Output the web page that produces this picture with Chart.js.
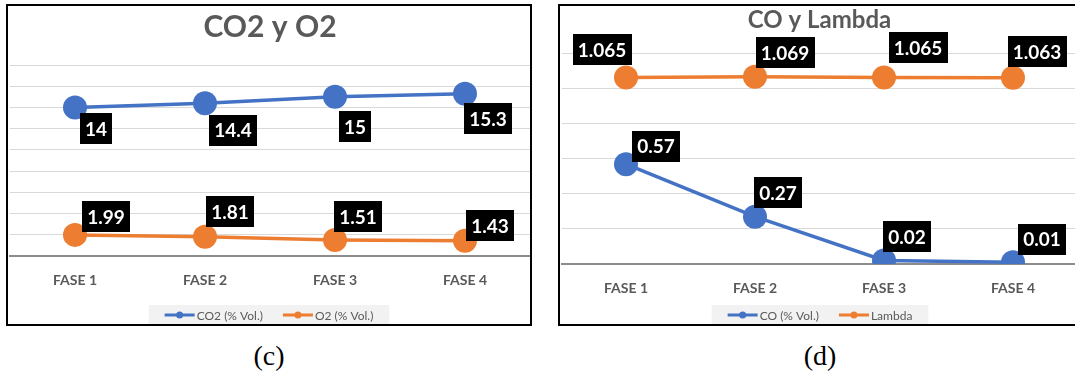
<!DOCTYPE html>
<html>
<head>
<meta charset="utf-8">
<title>CO2 y O2 / CO y Lambda</title>
<script src="https://cdn.jsdelivr.net/npm/chart.js@4.4.1/dist/chart.umd.min.js"></script>
<style>
  html, body { margin: 0; padding: 0; background: #fff; }
  body { position: relative; width: 1075px; height: 381px; overflow: hidden; }
  .panel { position: absolute; top: 4px; height: 322px; border: 2px solid #000; box-sizing: border-box; overflow: hidden; background: #fff; }
  #panelC { left: 6px; width: 526px; }
  #panelD { left: 558px; width: 517px; border-right: none; }
  .chart-box { position: absolute; left: 0; top: 0; height: 318px; }
  #panelC .chart-box { width: 522px; }
  #panelD .chart-box { width: 520px; }
  .caption { position: absolute; top: 338px; font-family: "Liberation Serif", serif; font-size: 28px; line-height: 36px; color: #000; width: 60px; text-align: center; }
</style>
</head>
<body>
<div class="panel" id="panelC"><div class="chart-box"><canvas id="chartC"></canvas></div></div>
<div class="panel" id="panelD"><div class="chart-box"><canvas id="chartD"></canvas></div></div>
<div class="caption" style="left:239px">(c)</div>
<div class="caption" style="left:790px">(d)</div>

<script>
// categorias y valores medidos por fase
const fases = ['FASE 1', 'FASE 2', 'FASE 3', 'FASE 4'];
const co2 = [14, 14.4, 15, 15.3];
const o2 = [1.99, 1.81, 1.51, 1.43];
const co = [0.57, 0.27, 0.02, 0.01];
const lambda = [1.065, 1.069, 1.065, 1.063];

// rangos del eje Y (sin etiquetas, solo lineas de cuadricula)
const rangoC = [0, 18, 2];
const rangoD = [0, 1.2, 0.2];

const AZUL = '#4472C4';
const NARANJA = '#ED7D31';
const GRIS = '#595959';

// cajas negras con el valor de cada punto
const etiquetasValor = {
  id: 'etiquetasValor',
  afterDatasetsDraw(chart) {
    const ctx = chart.ctx;
    ctx.save();
    ctx.font = 'bold 19px Lato';
    ctx.textAlign = 'center';
    ctx.textBaseline = 'middle';
    chart.data.datasets.forEach((ds, i) => {
      chart.getDatasetMeta(i).data.forEach((pt, j) => {
        const txt = String(ds.data[j]);
        const off = ds.desplaz[j];
        const cx = pt.x + off[0];
        const cy = pt.y + off[1];
        const w = ctx.measureText(txt).width + 10;
        const h = 31;
        ctx.fillStyle = '#000';
        ctx.fillRect(Math.round(cx - w / 2), Math.round(cy - h / 2), Math.round(w), h);
        ctx.fillStyle = '#fff';
        ctx.fillText(txt, cx, cy + 1);
      });
    });
    ctx.restore();
  }
};

// leyenda inferior con fondo gris claro
const leyendaFranja = {
  id: 'leyendaFranja',
  afterDraw(chart) {
    const ctx = chart.ctx;
    const y = 309;
    ctx.save();
    ctx.font = '12px Lato';
    const items = chart.data.datasets.map(ds => ({ ds: ds, w: ctx.measureText(ds.label).width }));
    const largo = 30;
    let total = 32;
    items.forEach((it, k) => { total += largo + 2 + it.w + (k ? 20 : 0); });
    let x = chart.width / 2 - total / 2;
    ctx.fillStyle = '#f2f2f2';
    ctx.fillRect(x, y - 10, total, 21);
    x += 16;
    items.forEach(it => {
      ctx.strokeStyle = it.ds.borderColor;
      ctx.lineWidth = 3;
      ctx.beginPath();
      ctx.moveTo(x, y);
      ctx.lineTo(x + largo, y);
      ctx.stroke();
      ctx.fillStyle = it.ds.borderColor;
      ctx.beginPath();
      ctx.arc(x + largo / 2, y, 3.5, 0, Math.PI * 2);
      ctx.fill();
      ctx.fillStyle = GRIS;
      ctx.textBaseline = 'middle';
      ctx.fillText(it.ds.label, x + largo + 2, y + 1);
      x += largo + 2 + it.w + 20;
    });
    ctx.restore();
  }
};

function serie(label, data, color, desplaz) {
  return {
    label: label,
    data: data,
    borderColor: color,
    backgroundColor: color,
    borderWidth: 3.5,
    pointRadius: 12,
    pointHoverRadius: 12,
    pointBorderWidth: 0,
    tension: 0,
    desplaz: desplaz
  };
}

function crearGrafico(id, titulo, tamTitulo, titPad, datasets, rango, area) {
  return new Chart(document.getElementById(id), {
    type: 'line',
    data: { labels: fases, datasets: datasets },
    plugins: [etiquetasValor, leyendaFranja],
    options: {
      responsive: true,
      maintainAspectRatio: false,
      animation: false,
      events: [],
      layout: {
        autoPadding: false,
        padding: { left: area.left, right: area.right, top: 0, bottom: 0 }
      },
      plugins: {
        legend: { display: false },
        tooltip: { enabled: false },
        title: {
          display: true,
          text: titulo,
          color: GRIS,
          font: { family: 'Lato', size: tamTitulo, weight: 'bold', lineHeight: 1.2 },
          padding: titPad
        }
      },
      scales: {
        x: {
          offset: true,
          grid: { display: false, drawTicks: false },
          border: { display: true, color: '#8c8c8c', width: 2 },
          ticks: { color: GRIS, padding: area.tickPad, font: { family: 'Lato', size: 14, weight: 'bold' } },
          afterFit(scale) {
            scale.height = area.xAlto;
            scale.paddingLeft = 0;
            scale.paddingRight = 0;
          }
        },
        y: {
          min: rango[0],
          max: rango[1],
          ticks: { display: false, stepSize: rango[2] },
          grid: { color: '#d9d9d9', lineWidth: 1, drawTicks: false },
          border: { display: false }
        }
      }
    }
  });
}

crearGrafico('chartC', 'CO2 y O2', 30, { top: 3, bottom: 20 }, [
  serie('CO2 (% Vol.)', co2, AZUL, [[21, 21], [28, 27], [20, 30], [23, 25]]),
  serie('O2 (% Vol.)', o2, NARANJA, [[31, -18], [25, -25], [23, -23], [25, -15]])
], rangoC, { left: 2, right: 0, xAlto: 68, tickPad: 16 });

crearGrafico('chartD', 'CO y Lambda', 24, { top: 0, bottom: 19 }, [
  serie('CO (% Vol.)', co, AZUL, [[30, -18], [23, -24], [23, -24], [29, -23]]),
  serie('Lambda', lambda, NARANJA, [[-24, -28], [30, -24], [34, -30], [24, -26]])
], rangoD, { left: 1.5, right: 2.5, xAlto: 60, tickPad: 16 });
</script>
</body>
</html>
